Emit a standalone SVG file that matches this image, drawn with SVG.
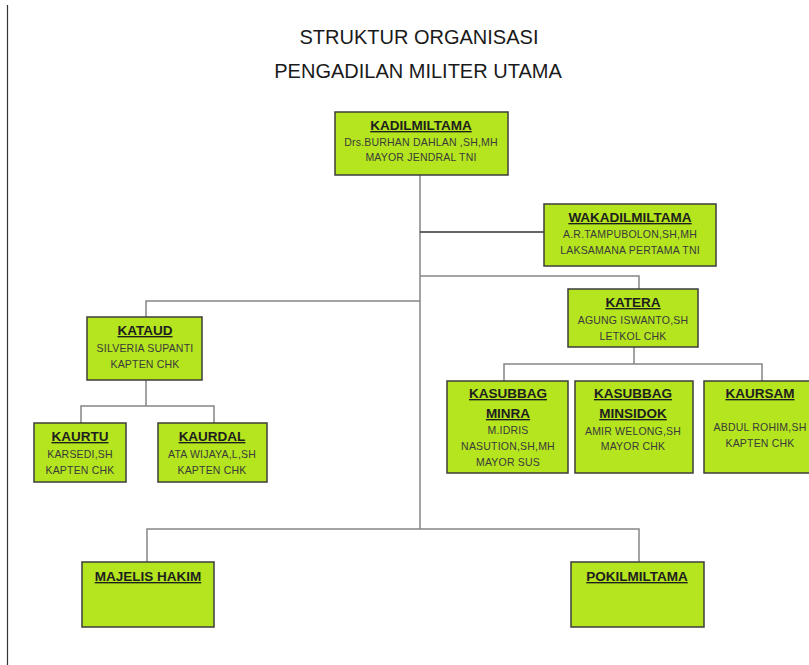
<svg xmlns="http://www.w3.org/2000/svg" width="809" height="665" viewBox="0 0 809 665">
<style>
.box{fill:#b4e51f;stroke:#3c3c3c;stroke-width:1.5}
.ln{fill:none;stroke:#858585;stroke-width:1.5}
.dk{fill:none;stroke:#333;stroke-width:1.3}
.ttl{font-family:"Liberation Sans",Arial,sans-serif;font-size:20px;fill:#1a1a1a;text-anchor:middle}
.h{font-family:"Liberation Sans",Arial,sans-serif;font-weight:bold;font-size:13.5px;fill:#1e1e1e;text-anchor:middle;text-decoration:underline}
.t{font-family:"Liberation Sans",Arial,sans-serif;font-size:10.5px;letter-spacing:0.2px;fill:#3a3a3a;text-anchor:middle}
</style>
<rect width="809" height="665" fill="#fff"/>
<line x1="7.5" y1="5" x2="7.5" y2="665" stroke="#333" stroke-width="1.2"/>
<text class="ttl" x="419" y="44">STRUKTUR ORGANISASI</text>
<text class="ttl" x="418" y="78">PENGADILAN MILITER UTAMA</text>
<g id="connectors">
<path class="ln" d="M420 175V529"/>
<path class="dk" d="M420 232H544"/>
<path class="ln" d="M420 276H639V289"/>
<path class="ln" d="M420 301H146V317"/>
<path class="ln" d="M146 380V406M81 423V406H214V423"/>
<path class="ln" d="M634 347V364M504 381V364H762V381"/>
<path class="ln" d="M147 562V529H639V562"/>
</g>
<g id="kadilmiltama">
<rect class="box" x="335" y="112" width="173" height="63"/>
<text class="h" x="421" y="130">KADILMILTAMA</text>
<text class="t" x="421" y="146">Drs.BURHAN DAHLAN ,SH,MH</text>
<text class="t" x="421" y="161">MAYOR JENDRAL TNI</text>
</g>
<g id="wakadilmiltama">
<rect class="box" x="544" y="204" width="172" height="62"/>
<text class="h" x="630" y="222">WAKADILMILTAMA</text>
<text class="t" x="630" y="238">A.R.TAMPUBOLON,SH,MH</text>
<text class="t" x="630" y="254">LAKSAMANA PERTAMA TNI</text>
</g>
<g id="katera">
<rect class="box" x="568" y="289" width="130" height="58"/>
<text class="h" x="633" y="307">KATERA</text>
<text class="t" x="633" y="324">AGUNG ISWANTO,SH</text>
<text class="t" x="633" y="340">LETKOL CHK</text>
</g>
<g id="kataud">
<rect class="box" x="87" y="317" width="115" height="63"/>
<text class="h" x="145" y="335">KATAUD</text>
<text class="t" x="145" y="352">SILVERIA SUPANTI</text>
<text class="t" x="145" y="368">KAPTEN CHK</text>
</g>
<g id="kaurtu">
<rect class="box" x="34" y="423" width="92" height="59"/>
<text class="h" x="80" y="441">KAURTU</text>
<text class="t" x="80" y="458">KARSEDI,SH</text>
<text class="t" x="80" y="474">KAPTEN CHK</text>
</g>
<g id="kaurdal">
<rect class="box" x="158" y="423" width="109" height="59"/>
<text class="h" x="212" y="441">KAURDAL</text>
<text class="t" x="212" y="458">ATA WIJAYA,L,SH</text>
<text class="t" x="212" y="474">KAPTEN CHK</text>
</g>
<g id="kasubbag-minra">
<rect class="box" x="447" y="381" width="121" height="92"/>
<text class="h" x="508" y="398">KASUBBAG</text>
<text class="h" x="508" y="418">MINRA</text>
<text class="t" x="508" y="434">M.IDRIS</text>
<text class="t" x="508" y="450">NASUTION,SH,MH</text>
<text class="t" x="508" y="466">MAYOR SUS</text>
</g>
<g id="kasubbag-minsidok">
<rect class="box" x="575" y="381" width="118" height="92"/>
<text class="h" x="633" y="398">KASUBBAG</text>
<text class="h" x="633" y="418">MINSIDOK</text>
<text class="t" x="633" y="435">AMIR WELONG,SH</text>
<text class="t" x="633" y="450">MAYOR CHK</text>
</g>
<g id="kaursam">
<rect class="box" x="704" y="381" width="120" height="92"/>
<text class="h" x="760" y="398">KAURSAM</text>
<text class="t" x="760" y="431">ABDUL ROHIM,SH</text>
<text class="t" x="760" y="447">KAPTEN CHK</text>
</g>
<g id="majelis-hakim">
<rect class="box" x="82" y="562" width="132" height="65"/>
<text class="h" x="148" y="581">MAJELIS HAKIM</text>
</g>
<g id="pokilmiltama">
<rect class="box" x="571" y="562" width="133" height="65"/>
<text class="h" x="637" y="581">POKILMILTAMA</text>
</g>
</svg>
